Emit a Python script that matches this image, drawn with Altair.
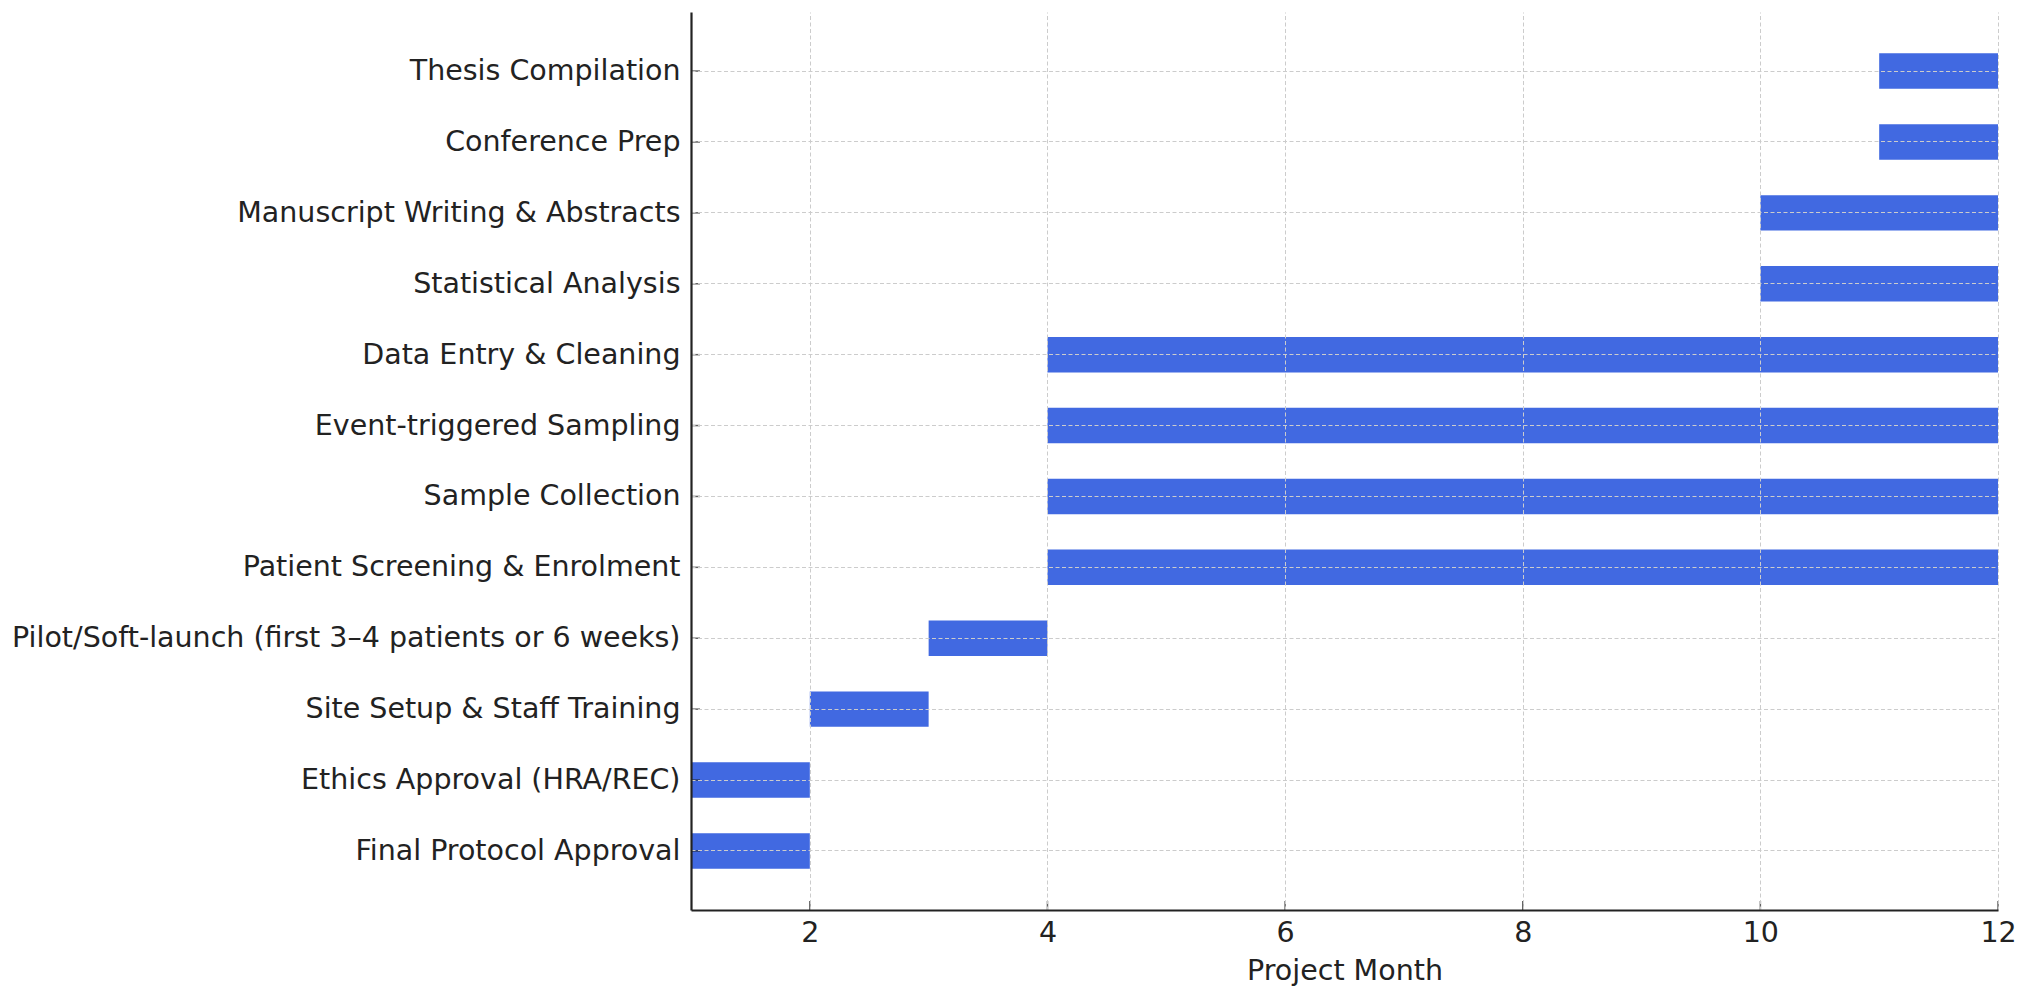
import altair as alt
import pandas as pd

tasks = [
    "Final Protocol Approval",
    "Ethics Approval (HRA/REC)",
    "Site Setup & Staff Training",
    "Pilot/Soft-launch (first 3–4 patients or 6 weeks)",
    "Patient Screening & Enrolment",
    "Sample Collection",
    "Event-triggered Sampling",
    "Data Entry & Cleaning",
    "Statistical Analysis",
    "Manuscript Writing & Abstracts",
    "Conference Prep",
    "Thesis Compilation",
]
starts = [1, 1, 2, 3, 4, 4, 4, 4, 10, 10, 11, 11]
ends = [2, 2, 3, 4, 12, 12, 12, 12, 12, 12, 12, 12]
x_ticks = [2, 4, 6, 8, 10, 12]

df = pd.DataFrame({"task": tasks, "start": starts, "end": ends})
ticks_df = pd.DataFrame({"v": x_ticks})
ytick_df = pd.DataFrame({"task": tasks})

W, H = 1307, 898
FONT = "DejaVu Sans"
FS = 28.5
order = list(reversed(tasks))

yscale = alt.Scale(domain=order, paddingInner=0.5, paddingOuter=0.583)
xscale = alt.Scale(domain=[1, 12], nice=False, zero=False)

bars = alt.Chart(df).mark_bar(color="#4169E1").encode(
    x=alt.X(
        "start:Q",
        scale=xscale,
        axis=alt.Axis(
            values=x_ticks,
            format="d",
            title="Project Month",
            ticks=False,
            labelFlush=False,
            labelPadding=8,
            titlePadding=10,
            grid=True,
            gridColor="#cccccc",
            gridDash=[4, 2.5],
            gridWidth=1,
            domainColor="#222222",
            domainWidth=2.2,
            labelFont=FONT,
            labelFontSize=FS,
            labelColor="#222222",
            titleFont=FONT,
            titleFontSize=FS,
            titleFontWeight="normal",
            titleColor="#222222",
            zindex=1,
        ),
    ),
    x2="end:Q",
    y=alt.Y(
        "task:N",
        sort=order,
        scale=yscale,
        axis=alt.Axis(
            title=None,
            ticks=False,
            labelPadding=11,
            grid=True,
            gridColor="#cccccc",
            gridDash=[4, 2.5],
            gridWidth=1,
            domainColor="#222222",
            domainWidth=2.2,
            labelFont=FONT,
            labelFontSize=FS,
            labelColor="#222222",
            labelLimit=1000,
            zindex=1,
        ),
    ),
)

xt = alt.Chart(ticks_df).mark_tick(color="#222222", orient="vertical", size=9, thickness=1.5).encode(
    x=alt.X("v:Q", scale=xscale),
    y=alt.value(H - 4.5),
)

yt = alt.Chart(ytick_df).mark_tick(color="#222222", orient="horizontal", size=9, thickness=1.5).encode(
    y=alt.Y("task:N", sort=order, scale=yscale),
    x=alt.value(4.5),
)

chart = (
    alt.layer(bars, xt, yt)
    .properties(
        width=W,
        height=H,
        background="white",
        autosize=alt.AutoSizeParams(type="none"),
        padding={"left": 683, "top": 4, "right": 23, "bottom": 79},
    )
    .configure_view(strokeWidth=0, stroke="transparent")
)

chart.save("out.html", embed_options={"renderer": "svg", "actions": False})
